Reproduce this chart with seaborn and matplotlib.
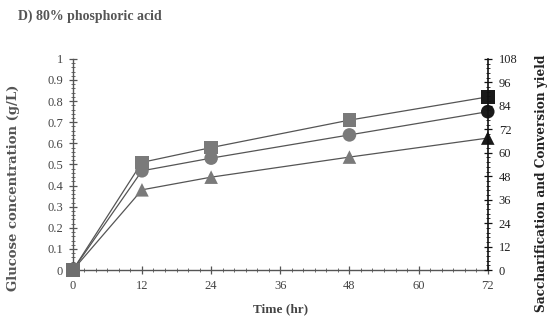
import numpy as np
import pandas as pd
import matplotlib
matplotlib.use("Agg")
import matplotlib.pyplot as plt
import seaborn as sns
from matplotlib.ticker import MultipleLocator

time_hr = [0, 12, 24, 48, 72]
series_square = [0, 0.51, 0.58, 0.71, 0.82]
series_circle = [0, 0.47, 0.53, 0.64, 0.75]
series_triangle = [0, 0.38, 0.44, 0.535, 0.625]
x_ticks = [0, 12, 24, 36, 48, 60, 72]
left_ticks = [0, 0.1, 0.2, 0.3, 0.4, 0.5, 0.6, 0.7, 0.8, 0.9, 1]
left_labels = ["0", "0.1", "0.2", "0.3", "0.4", "0.5", "0.6", "0.7", "0.8", "0.9", "1"]
right_ticks = [0, 12, 24, 36, 48, 60, 72, 84, 96, 108]

sns.set_theme(style="white")
plt.rcParams['font.family'] = ['Liberation Serif', 'DejaVu Serif']

rows = []
for name, vals in [("square", series_square), ("circle", series_circle), ("triangle", series_triangle)]:
    for t, v in zip(time_hr, vals):
        rows.append({"time": t, "value": v, "series": name})
df = pd.DataFrame(rows)

fig = plt.figure(figsize=(5.6, 3.27), dpi=100)
ax = fig.add_axes([0.130, 0.174, 0.741, 0.646])

sns.lineplot(data=df, x="time", y="value", units="series", estimator=None,
             color="#555555", linewidth=0.9, ax=ax, legend=False)

markers = {"square": "s", "circle": "o", "triangle": "^"}
for name, m in markers.items():
    sub = df[df.series == name]
    mid = sub[(sub.time > 0) & (sub.time < 72)]
    end = sub[sub.time == 72]
    sns.scatterplot(data=mid, x="time", y="value", marker=m, color="#7a7a7a",
                    s=95, edgecolor="none", ax=ax, zorder=3, legend=False)
    sns.scatterplot(data=end, x="time", y="value", marker=m, color="#1a1a1a",
                    s=95, edgecolor="none", ax=ax, zorder=4, legend=False, clip_on=False)
start = df[(df.time == 0) & (df.series == "square")]
sns.scatterplot(data=start, x="time", y="value", marker="s", color="#6e6e6e",
                s=100, edgecolor="none", ax=ax, zorder=4, legend=False, clip_on=False)

ax.set_xlim(0, 72)
ax.set_ylim(0, 1)
ax.set_xticks(x_ticks)
ax.set_xticklabels([str(t) for t in x_ticks], fontsize=9, color="#444444")
ax.set_yticks(left_ticks)
ax.set_yticklabels(left_labels, fontsize=9, color="#444444")
ax.xaxis.set_minor_locator(MultipleLocator(2))
ax.yaxis.set_minor_locator(MultipleLocator(0.02))
ax.tick_params(axis="both", which="major", direction="inout", length=6, width=0.9,
               color="#555555", pad=4, left=True, bottom=True)
ax.tick_params(axis="both", which="minor", direction="inout", length=3, width=0.6,
               color="#555555", left=True, bottom=True)
for s in ["top", "right"]:
    ax.spines[s].set_visible(False)
for s in ["left", "bottom"]:
    ax.spines[s].set_color("#555555")
    ax.spines[s].set_linewidth(1.0)
ax.set_xlabel("Time (hr)", fontsize=9.5, fontweight="bold", color="#444444")
ax.set_ylabel("Glucose concentration (g/L)", fontsize=9.5, fontweight="bold", color="#555555",
              family=["DejaVu Serif"])
ax.xaxis.set_label_coords(0.5, -0.158)
ax.yaxis.set_label_coords(-0.128, 0.39)

ax2 = ax.twinx()
ax2.set_ylim(0, 108)
ax2.set_yticks(right_ticks)
ax2.set_yticklabels([str(t) for t in right_ticks], fontsize=9, color="#222222")
ax2.yaxis.set_minor_locator(MultipleLocator(2.4))
ax2.tick_params(axis="y", which="major", direction="inout", length=6, width=0.9, color="#111111", pad=5, right=True)
ax2.tick_params(axis="y", which="minor", direction="inout", length=3, width=0.6, color="#111111", right=True)
for s in ["top", "left", "bottom"]:
    ax2.spines[s].set_visible(False)
ax2.spines["right"].set_color("#111111")
ax2.spines["right"].set_linewidth(1.2)
ax2.set_ylabel("Saccharification and Conversion yield", fontsize=8.7, fontweight="bold",
               color="#222222", family=["DejaVu Serif"])
ax2.yaxis.set_label_coords(1.113, 0.41)
ax2.grid(False)
ax.grid(False)

fig.text(0.032, 0.950, "D) 80% phosphoric acid", fontsize=10, fontweight="bold", color="#555555",
         ha="left", va="center")

fig.savefig("out.png", dpi=100)
